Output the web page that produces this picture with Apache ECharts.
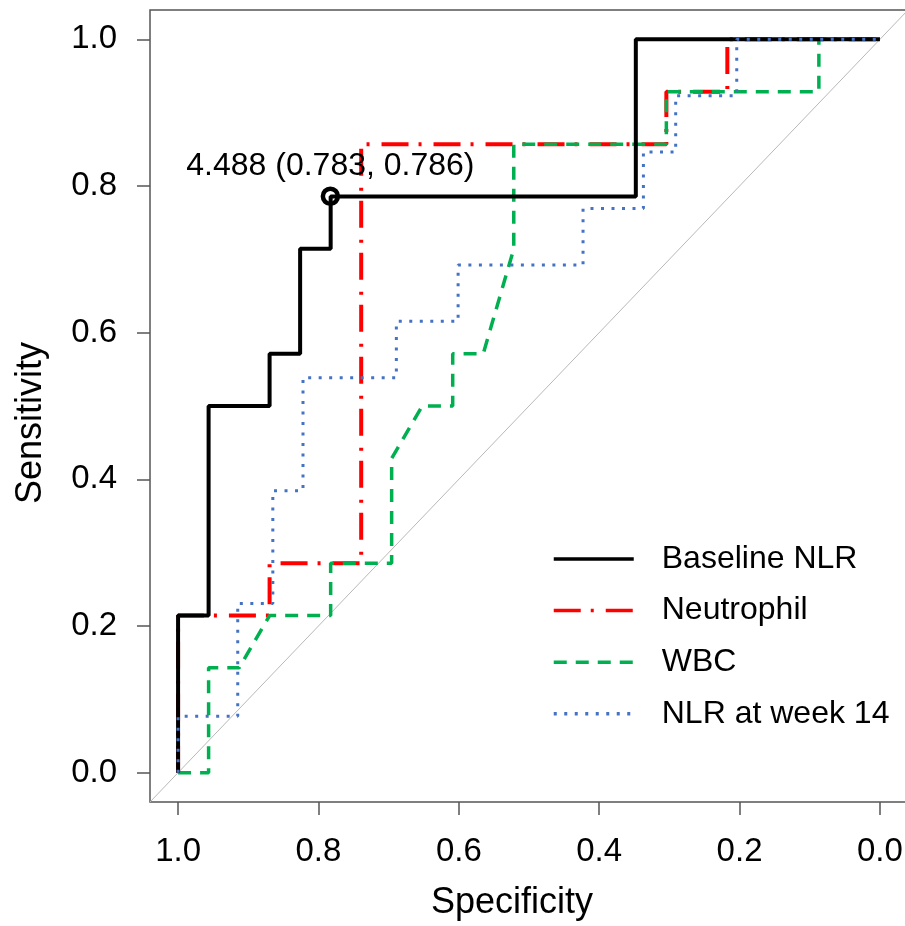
<!DOCTYPE html>
<html>
<head>
<meta charset="utf-8">
<script src="https://cdn.jsdelivr.net/npm/echarts@6/dist/echarts.min.js"></script>
<style>
html,body{margin:0;padding:0;background:#fff;}
#chart{width:905px;height:926px;}
</style>
</head>
<body>
<div id="chart"></div>
<script>
// ---- data ----
const seriesNames = ['Baseline NLR', 'Neutrophil', 'WBC', 'NLR at week 14'];

const specBaseline = [1, 1, 0.9565, 0.9565, 0.8696, 0.8696, 0.8261, 0.8261, 0.7826, 0.7826, 0.3478, 0.3478, 0];
const sensBaseline = [0, 0.2143, 0.2143, 0.5, 0.5, 0.5714, 0.5714, 0.7143, 0.7143, 0.7857, 0.7857, 1, 1];

const specNeutrophil = [1, 1, 0.8696, 0.8696, 0.7391, 0.7391, 0.3043, 0.3043, 0.2174, 0.2174, 0];
const sensNeutrophil = [0, 0.2143, 0.2143, 0.2857, 0.2857, 0.8571, 0.8571, 0.9286, 0.9286, 1, 1];

const specWBC = [1, 0.9565, 0.9565, 0.913, 0.8696, 0.7826, 0.7826, 0.6957, 0.6957, 0.6522, 0.6087, 0.6087, 0.5652, 0.5217, 0.5217, 0.3043, 0.3043, 0.087, 0.087, 0];
const sensWBC = [0, 0, 0.1429, 0.1429, 0.2143, 0.2143, 0.2857, 0.2857, 0.4286, 0.5, 0.5, 0.5714, 0.5714, 0.7143, 0.8571, 0.8571, 0.9286, 0.9286, 1, 1];

const specWeek14 = [1, 1, 0.915, 0.915, 0.865, 0.865, 0.822, 0.822, 0.689, 0.689, 0.601, 0.601, 0.423, 0.423, 0.337, 0.337, 0.291, 0.291, 0.204, 0.204, 0];
const sensWeek14 = [0, 0.0769, 0.0769, 0.2308, 0.2308, 0.3846, 0.3846, 0.5385, 0.5385, 0.6154, 0.6154, 0.6923, 0.6923, 0.7692, 0.7692, 0.8462, 0.8462, 0.9231, 0.9231, 1, 1];

const thresholdValue = '4.488';
const thresholdSpec = 0.783;
const thresholdSens = 0.786;

const chanceSpec = [1.04, -0.04];
const chanceSens = [-0.04, 1.04];

const tickValues = [0, 0.2, 0.4, 0.6, 0.8, 1.0];

// ---- build ----
const zip = (a, b) => a.map((v, i) => [v, b[i]]);
const FONT = "'Liberation Sans', Arial, sans-serif";
const AXC = '#555555';

const chart = echarts.init(document.getElementById('chart'), null, {renderer: 'canvas'});

const axisCommon = {
  type: 'value',
  min: -0.04,
  max: 1.04,
  splitLine: {show: false},
  axisLine: {show: false, onZero: false},
  axisTick: {show: true, length: 13, inside: false, customValues: tickValues,
             lineStyle: {color: AXC, width: 1.5}},
  axisLabel: {customValues: tickValues, fontFamily: FONT, fontSize: 33, color: '#000',
              formatter: v => v.toFixed(1)},
  nameLocation: 'middle',
  nameTextStyle: {fontFamily: FONT, fontSize: 36, color: '#000', padding: [0, 34, 0, 0]}
};

const option = {
  animation: false,
  backgroundColor: '#ffffff',
  grid: {left: 150, top: 10, width: 758, height: 792, show: true, outerBoundsMode: 'none',
         containLabel: false,
         borderColor: AXC, borderWidth: 1.5, backgroundColor: 'transparent'},
  xAxis: Object.assign({}, axisCommon, {
    inverse: true, name: 'Specificity', nameGap: 83,
    axisLabel: Object.assign({}, axisCommon.axisLabel, {margin: 33})
  }),
  yAxis: Object.assign({}, axisCommon, {
    name: 'Sensitivity', nameGap: 101,
    axisLabel: Object.assign({}, axisCommon.axisLabel, {margin: 33})
  }),
  legend: {
    orient: 'vertical', left: 552, top: 543, padding: 0,
    data: seriesNames,
    itemWidth: 80, itemHeight: 20, itemGap: 19.6,
    itemStyle: {opacity: 0},
    lineStyle: {width: 3.5},
    textStyle: {fontFamily: FONT, fontSize: 32, color: '#000', padding: [0, 0, 0, 23]}
  },
  series: [
    {
      name: 'chance', type: 'line', silent: true, symbol: 'none', z: 1,
      data: zip(chanceSpec, chanceSens),
      lineStyle: {color: '#b8b8b8', width: 1}
    },
    {
      name: seriesNames[1], type: 'line', symbol: 'none', z: 2,
      data: zip(specNeutrophil, sensNeutrophil),
      itemStyle: {color: '#ff0000'},
      lineStyle: {color: '#ff0000', width: 4, type: [27, 10, 3, 12]}
    },
    {
      name: seriesNames[2], type: 'line', symbol: 'none', z: 3,
      data: zip(specWBC, sensWBC),
      itemStyle: {color: '#00b050'},
      lineStyle: {color: '#00b050', width: 3.5, type: [13, 9]}
    },
    {
      name: seriesNames[0], type: 'line', symbol: 'none', z: 4,
      data: zip(specBaseline, sensBaseline),
      itemStyle: {color: '#000000'},
      lineStyle: {color: '#000000', width: 4, type: 'solid'}
    },
    {
      name: seriesNames[3], type: 'line', symbol: 'none', z: 5,
      data: zip(specWeek14, sensWeek14),
      itemStyle: {color: '#4472c4'},
      lineStyle: {color: '#4472c4', width: 3, type: [3, 7.5]}
    },
    {
      name: 'threshold', type: 'scatter', z: 6,
      data: [[thresholdSpec, thresholdSens]],
      symbol: 'circle', symbolSize: 15,
      itemStyle: {color: 'rgba(255,255,255,0)', borderColor: '#000', borderWidth: 4.5, opacity: 1},
      label: {show: true, position: 'top', distance: 4,
              formatter: thresholdValue + ' (' + thresholdSpec.toFixed(3) + ', ' + thresholdSens.toFixed(3) + ')',
              fontFamily: FONT, fontSize: 32, color: '#000', opacity: 1}
    }
  ]
};
chart.setOption(option);
</script>
</body>
</html>
